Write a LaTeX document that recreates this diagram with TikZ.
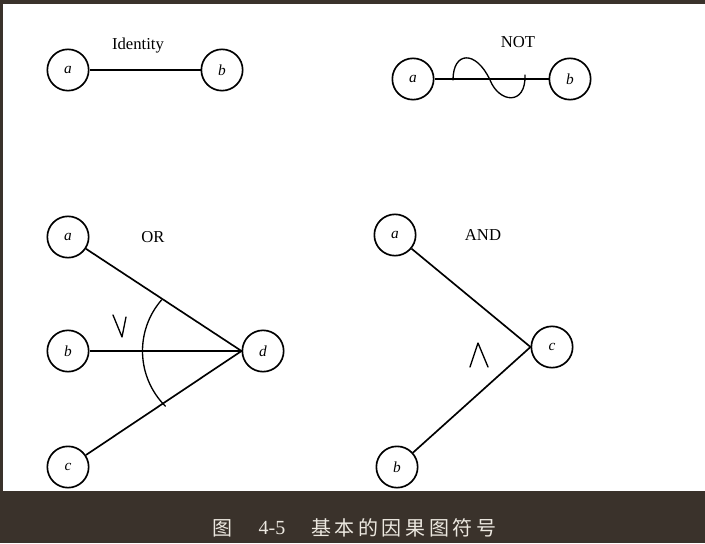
\documentclass[tikz,border=0pt]{standalone}
\usepackage{fontspec}
\setmainfont{Liberation Serif}
\newfontfamily\cjkfont{Noto Sans CJK SC}
\usetikzlibrary{calc}

\definecolor{frame}{RGB}{58,50,43}
\definecolor{captxt}{RGB}{236,232,224}

\begin{document}
\begin{tikzpicture}[
  x=0.75pt, y=0.75pt, line width=1.25pt,
  var/.style   = {draw, circle, inner sep=0pt, minimum size=31pt,
                  font=\fontsize{11.5}{13}\selectfont\itshape},
  gate/.style  = {inner sep=0pt, font=\fontsize{12.5}{14}\selectfont},
  hand/.style  = {line width=1pt, line cap=round, line join=round},
  capt/.style  = {inner sep=0pt, text=captxt, font=\fontsize{15}{17}\selectfont},
]
  \useasboundingbox (0,0) rectangle (705,543);
  \fill[frame] (0,0) rectangle (705,543);
  \fill[white] (3,52) rectangle (705,539);

  % Identity
  \node[var]  (ia) at (68,473)  {a};
  \node[var]  (ib) at (222,473) {b};
  \node[gate] (il) at (138,497) {Identity};
  \draw (ia) -- (ib);

  % NOT
  \node[var]  (na) at (413,464) {a};
  \node[var]  (nb) at (570,464) {b};
  \node[gate] (nl) at (518,501) {NOT};
  \draw (na) -- (nb);
  \draw[hand] (453,463) .. controls (453,492) and (476,493) .. (490,463)
              .. controls (499,440) and (526,437) .. (525,468);

  % OR
  \node[var]  (oa) at (68,306)  {a};
  \node[var]  (ob) at (68,192)  {b};
  \node[var]  (oc) at (68,76)   {c};
  \node[var]  (od) at (263,192) {d};
  \node[gate] (ol) at (153,306) {OR};
  \draw (oa) -- (od.west);
  \draw (ob) -- (od.west);
  \draw (oc) -- (od.west);
  \coordinate (orc) at ($(od.west)+(-21,0)$);
  \draw[hand] ($(orc)+(139:58.5pt)$) arc[start angle=139, end angle=225, radius=58.5pt];
  \draw[hand] (113,228) -- (122,206) -- (126,226);

  % AND
  \node[var]  (aa) at (395,308) {a};
  \node[var]  (ab) at (397,76)  {b};
  \node[var]  (ac) at (552,196) {c};
  \node[gate] (al) at (483,308) {AND};
  \draw (aa) -- (ac.west);
  \draw (ab) -- (ac.west);
  \draw[hand] (470,176) -- (478,200) -- (488,176);

  % caption
  \node[capt] (cfig) at (222,15) {\cjkfont 图};
  \node[capt] (cnum) at (272,15) {4-5};
  \foreach \ch [count=\i from 0] in {基,本,的,因,果,图,符,号}
    \node[capt] (ct\i) at (321+23.6*\i,15) {\cjkfont\ch};
\end{tikzpicture}
\end{document}
